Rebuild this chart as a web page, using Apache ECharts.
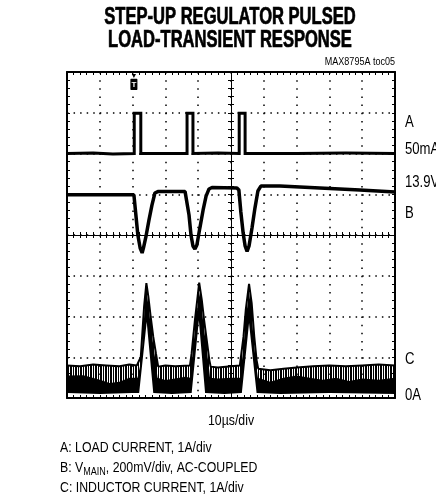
<!DOCTYPE html>
<html>
<head>
<meta charset="utf-8">
<script src="https://cdn.jsdelivr.net/npm/echarts@6/dist/echarts.min.js"></script>
<style>
html,body{margin:0;padding:0;background:#fff;}
#chart{width:436px;height:502px;}
</style>
</head>
<body>
<div id="chart"></div>
<script>
// ---------- DATA ----------
// time axis: 10 µs/div, 10 divisions
const timeMin = 0, timeMax = 100, timeStep = 10;
const trigT = 20.4; // trigger marker position (µs)

// Trace A: load current (A), 1A/div, baseline 50mA
const tA = [0, 8, 14, 20.5, 20.5, 22.5, 22.5, 30, 36.6, 36.6, 38.4, 38.4, 46, 52.5, 52.5, 54.3, 54.3, 70, 85, 100];
const iA = [0.05, 0.06, 0.04, 0.05, 1.04, 1.04, 0.05, 0.05, 0.05, 1.04, 1.04, 0.05, 0.06, 0.05, 1.04, 1.04, 0.05, 0.05, 0.06, 0.05];

// Trace B: VMAIN (V), 200mV/div, 13.9V reference
const tB = [0, 10, 20.4, 21.0, 21.6, 22.3, 22.9, 23.3, 24.1, 25.0, 25.9, 26.8, 27.7, 32, 36.0, 36.6, 37.2, 37.8, 38.4, 39.0, 39.6, 40.5, 41.5, 42.4, 43.3, 44.2, 48, 51.8, 52.4, 53.0, 53.7, 54.3, 54.9, 55.5, 56.4, 57.3, 58.2, 59.1, 64.9, 77.1, 89.3, 100];
const vB = [13.897, 13.898, 13.897, 13.798, 13.700, 13.636, 13.612, 13.636, 13.695, 13.774, 13.847, 13.906, 13.913, 13.914, 13.913, 13.906, 13.798, 13.700, 13.646, 13.631, 13.651, 13.734, 13.823, 13.891, 13.926, 13.933, 13.932, 13.931, 13.921, 13.813, 13.710, 13.646, 13.619, 13.646, 13.734, 13.832, 13.916, 13.940, 13.940, 13.931, 13.921, 13.911];

// Trace C: inductor current (A), 1A/div, 0A at bottom
// upper envelope of the switching ripple
const tCu = [0, 4, 8, 12, 16, 19, 21.3, 22.5, 23.1, 23.5, 24.2, 24.8, 25.5, 26.3, 27.1, 27.8, 30, 33, 37.5, 38.0, 39.0, 39.7, 40.3, 41.1, 41.8, 42.6, 43.4, 43.8, 46, 50, 52.7, 53.8, 54.5, 55.5, 56.3, 57.1, 57.8, 58.3, 62, 66, 70, 75, 80, 85, 90, 95, 100];
const iCu = [0.80, 0.78, 0.82, 0.80, 0.78, 0.82, 0.80, 1.01, 1.75, 2.24, 2.82, 2.49, 2.00, 1.50, 1.10, 0.77, 0.80, 0.78, 0.80, 1.10, 1.91, 2.40, 2.83, 2.40, 1.91, 1.42, 0.93, 0.77, 0.75, 0.78, 0.80, 1.50, 2.16, 2.80, 2.33, 1.50, 0.93, 0.72, 0.68, 0.72, 0.75, 0.78, 0.80, 0.78, 0.80, 0.82, 0.80];
// dense (solid) core of the ripple band
const tCc = [0, 5, 10, 13, 16, 19, 21.5, 22.6, 23.2, 23.6, 24.2, 24.8, 25.5, 26.3, 27.0, 27.6, 30, 33, 36, 37.6, 38.1, 39.1, 39.8, 40.3, 41.0, 41.7, 42.5, 43.2, 43.6, 46, 50, 52.8, 53.9, 54.6, 55.5, 56.2, 57.0, 57.7, 58.2, 62, 66, 70, 74, 78, 82, 86, 90, 95, 100];
const iCc = [0.55, 0.56, 0.45, 0.37, 0.40, 0.50, 0.50, 0.90, 1.60, 2.10, 2.60, 2.30, 1.80, 1.30, 0.90, 0.50, 0.44, 0.48, 0.52, 0.50, 0.95, 1.75, 2.25, 2.60, 2.25, 1.75, 1.25, 0.80, 0.50, 0.48, 0.50, 0.50, 1.35, 2.00, 2.60, 2.15, 1.35, 0.80, 0.50, 0.40, 0.50, 0.55, 0.50, 0.45, 0.50, 0.42, 0.48, 0.45, 0.50];
// lower envelope (valleys) of the ripple
const tCl = [0, 10, 20, 22.0, 24.3, 26.3, 32, 38.0, 40.2, 42.1, 48, 53.3, 55.5, 57.8, 65, 80, 100];
const iCl = [0.12, 0.10, 0.12, 0.12, 1.87, 0.12, 0.10, 0.12, 1.91, 0.12, 0.10, 0.12, 1.84, 0.12, 0.10, 0.12, 0.10];

// axis ranges (divisions: 8 vertical)
const cRange = [0, 8];          // C: 0A at bottom, 1A/div
const aRange = [-5.95, 2.05];   // A: 50mA at 6th division, 1A/div
const bRange = [12.9, 14.5];    // B: 13.9V at 5th division, 0.2V/div

// texts
const titleLines = ['STEP-UP REGULATOR PULSED', 'LOAD-TRANSIENT RESPONSE'];
const tocLabel = 'MAX8795A toc05';
const timeLabel = '10\u00B5s/div';
const rightLabels = ['A', '50mA', '13.9V', 'B', 'C', '0A'];
const legendA = 'A: LOAD CURRENT, 1A/div';
const legendB = ['B: V', 'MAIN', ', 200mV/div, AC-COUPLED'];
const legendC = 'C: INDUCTOR CURRENT, 1A/div';

// ---------- CHART ----------
const zip = (t, v) => t.map((x, i) => [x, v[i]]);
const FF = '"Liberation Sans", Arial, Helvetica, sans-serif';
const NARROW = 0.82;

// stripe pattern for the switching ripple
const pc = document.createElement('canvas');
pc.width = 5; pc.height = 4;
const pctx = pc.getContext('2d');
pctx.fillStyle = '#fff'; pctx.fillRect(0, 0, 5, 4);
pctx.fillStyle = '#000';
pctx.fillRect(0, 0, 2, 4);
pctx.fillRect(3, 0, 1, 4);

const GRID = {left: 67, top: 72, width: 328, height: 326};
const black = '#000';

function xAx(extra) {
  return Object.assign({
    type: 'value', min: timeMin, max: timeMax, interval: timeStep, z: 10,
    axisLine: {show: true, onZero: false, lineStyle: {color: black, width: 2}},
    axisTick: {show: true, inside: true, length: 3, lineStyle: {color: black, width: 1}},
    minorTick: {show: true, splitNumber: 5, length: 3, lineStyle: {color: black, width: 1}},
    axisLabel: {show: false},
    splitLine: {show: false}
  }, extra);
}
function yAx(extra) {
  return Object.assign({
    type: 'value', min: cRange[0], max: cRange[1], interval: 1, z: 10,
    axisLine: {show: true, onZero: false, lineStyle: {color: black, width: 2}},
    axisTick: {show: true, inside: true, length: 3, lineStyle: {color: black, width: 1}},
    minorTick: {show: true, splitNumber: 5, length: 3, lineStyle: {color: black, width: 1}},
    axisLabel: {show: false},
    splitLine: {show: false}
  }, extra);
}

const option = {
  animation: false,
  backgroundColor: '#fff',
  grid: Object.assign({containLabel: false}, GRID),
  xAxis: [
    xAx({position: 'bottom', splitLine: {show: true, lineStyle: {color: black, width: 1.5, type: [1.5, 6.65]}}}),
    xAx({position: 'top'}),
    xAx({position: 'bottom', offset: -GRID.height / 2, axisLine: {show: true, onZero: false, lineStyle: {color: black, width: 1}},
         axisTick: {show: true, inside: true, length: 3, lineStyle: {color: black}}}),
    xAx({position: 'bottom', offset: -GRID.height / 2, axisLine: {show: true, onZero: false, lineStyle: {color: black, width: 1}},
         axisTick: {show: true, inside: false, length: 3, lineStyle: {color: black}}})
  ],
  yAxis: [
    yAx({position: 'left', splitLine: {show: true, lineStyle: {color: black, width: 1.5, type: [1.5, 5.06]}}}),
    yAx({position: 'right'}),
    {type: 'value', min: aRange[0], max: aRange[1], show: false},
    {type: 'value', min: bRange[0], max: bRange[1], show: false},
    yAx({position: 'left', offset: -GRID.width / 2, axisLine: {show: true, onZero: false, lineStyle: {color: black, width: 1}},
         axisTick: {show: true, inside: true, length: 3, lineStyle: {color: black}}}),
    yAx({position: 'left', offset: -GRID.width / 2, axisLine: {show: true, onZero: false, lineStyle: {color: black, width: 1}},
         axisTick: {show: true, inside: false, length: 3, lineStyle: {color: black}}})
  ],
  series: [
    {
      name: 'C ripple', type: 'line', xAxisIndex: 0, yAxisIndex: 0, z: 2,
      data: zip(tCu, iCu), symbol: 'none', silent: true,
      lineStyle: {color: black, width: 2},
      areaStyle: {color: {image: pc, repeat: 'repeat'}, opacity: 1, origin: 'start'}
    },
    {
      name: 'C core', type: 'line', xAxisIndex: 0, yAxisIndex: 0, z: 3,
      data: zip(tCc, iCc), symbol: 'none', silent: true,
      lineStyle: {width: 0},
      areaStyle: {color: black, opacity: 1, origin: 'start'}
    },
    {
      name: 'C valley', type: 'line', xAxisIndex: 0, yAxisIndex: 0, z: 4,
      data: zip(tCl, iCl), symbol: 'none', silent: true,
      lineStyle: {width: 0},
      areaStyle: {color: '#fff', opacity: 1, origin: 'start'}
    },
    {
      name: 'A', type: 'line', xAxisIndex: 0, yAxisIndex: 2, z: 5,
      data: zip(tA, iA), symbol: 'none', silent: true,
      lineStyle: {color: black, width: 3, join: 'miter'},
      markPoint: {
        symbol: 'path://M2,0 L8,0 L5,5 Z M1,6 L9,6 Q10,6 10,7 L10,19 Q10,20 9,20 L1,20 Q0,20 0,19 L0,7 Q0,6 1,6 Z',
        symbolSize: [7, 16], symbolKeepAspect: false, symbolOffset: [0, 10],
        itemStyle: {color: black},
        label: {show: true, formatter: 'T', color: '#fff', fontSize: 8, fontWeight: 'bold', fontFamily: FF, offset: [0, 2.5]},
        data: [{coord: [trigT, aRange[1]]}]
      }
    },
    {
      name: 'B', type: 'line', xAxisIndex: 0, yAxisIndex: 3, z: 5,
      data: zip(tB, vB), symbol: 'none', silent: true,
      lineStyle: {color: black, width: 3.5}
    }
  ],
  graphic: []
};

function txt(text, x, y, size, opts) {
  opts = opts || {};
  return {
    type: 'text', x: x, y: y, scaleX: opts.scaleX || NARROW, z: 100, silent: true,
    style: Object.assign({
      text: text,
      font: (opts.bold ? 'bold ' : '') + size + 'px ' + FF,
      fill: black,
      textAlign: opts.align || 'left', align: opts.align || 'left',
      textVerticalAlign: 'middle', verticalAlign: 'middle'
    }, opts.style || {})
  };
}

const G = option.graphic;
const titleStyle = {stroke: black, lineWidth: 0.7};
G.push(txt(titleLines[0], 230, 18, 23, {bold: true, align: 'center', scaleX: 0.72, style: titleStyle}));
G.push(txt(titleLines[1], 230, 40.5, 23, {bold: true, align: 'center', scaleX: 0.72, style: titleStyle}));
G.push(txt(tocLabel, 395, 62, 11, {align: 'right'}));
G.push(txt(timeLabel, 231, 421, 15, {align: 'center'}));
const rY = [123, 150, 183, 214, 360, 396];
rightLabels.forEach((s, i) => G.push(txt(s, 405, rY[i], 16)));
G.push(txt(legendA, 60, 448, 15));
G.push({
  type: 'text', x: 60, y: 468, scaleX: NARROW, z: 100, silent: true,
  style: {
    text: '{a|' + legendB[0] + '}{s|' + legendB[1] + '}{a|' + legendB[2] + '}',
    textAlign: 'left', align: 'left', textVerticalAlign: 'middle', verticalAlign: 'middle',
    rich: {
      a: {fontSize: 15, fontFamily: FF, fill: black, color: black, lineHeight: 20, verticalAlign: 'middle'},
      s: {fontSize: 11, fontFamily: FF, fill: black, color: black, lineHeight: 20, verticalAlign: 'bottom', padding: [0, 0, 1, 0]}
    }
  }
});
G.push(txt(legendC, 60, 488, 15));

const chart = echarts.init(document.getElementById('chart'), null, {renderer: 'canvas'});
chart.setOption(option);
</script>
</body>
</html>
